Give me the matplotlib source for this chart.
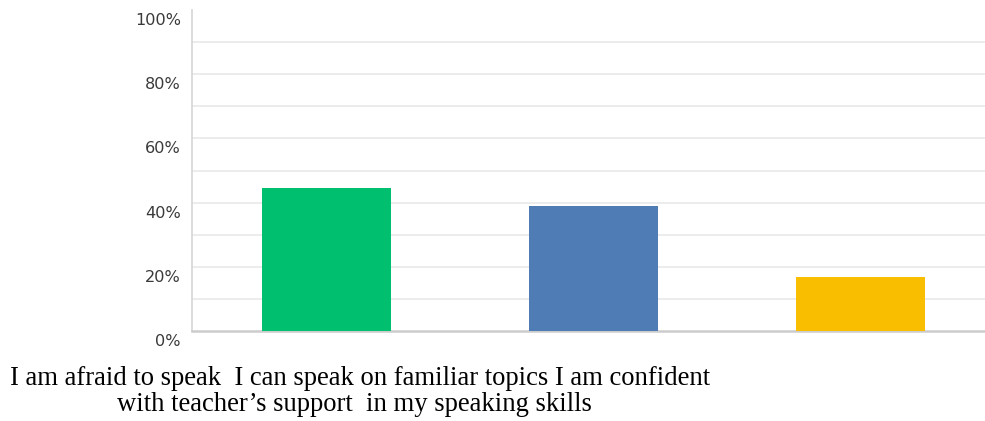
import matplotlib
matplotlib.use("Agg")
import matplotlib.pyplot as plt
import matplotlib.transforms as mtransforms
import numpy as np

# Share of responses per answer (percent)
categories = [
    "I am afraid to speak",
    "I can speak on familiar topics with teacher\u2019s support",
    "I am confident in my speaking skills",
]
values = [44.4, 38.9, 16.7]
colors = ["#00BF6F", "#507CB6", "#F9BE00"]
tick_values = [0, 20, 40, 60, 80, 100]
tick_labels = ["0%", "20%", "40%", "60%", "80%", "100%"]
grid_values = [10, 20, 30, 40, 50, 60, 70, 80, 90]

W, H = 985, 421
fig = plt.figure(figsize=(W / 100, H / 100), dpi=100)
ax = fig.add_axes([192 / W, 1 - 331 / H, (985 - 192) / W, (331 - 10) / H])

x = np.arange(len(categories))
ax.bar(x, values, width=0.483, color=colors, zorder=3, linewidth=0)

ax.set_xlim(-0.504, 2.466)
ax.set_ylim(0, 100)

for g in grid_values:
    ax.axhline(g, color="#ebebeb", linewidth=1.3, zorder=1)

ax.set_xticks([])
ax.set_yticks(tick_values)
ax.set_yticklabels(tick_labels, fontsize=11.6, color="#3a3a3a", family="DejaVu Sans")
ax.tick_params(axis="y", length=0, pad=8)
shift = mtransforms.ScaledTranslation(0, -9 / 100, fig.dpi_scale_trans)
for lbl in ax.get_yticklabels():
    lbl.set_transform(lbl.get_transform() + shift)

for side in ("top", "right"):
    ax.spines[side].set_visible(False)
ax.spines["left"].set_color("#d5d5d5")
ax.spines["left"].set_linewidth(1.2)
ax.spines["bottom"].set_color("#cccccc")
ax.spines["bottom"].set_linewidth(1.8)

# Category captions below the chart
serif = dict(family="Liberation Serif", fontsize=19.2, color="black",
             va="baseline", ha="left")
fig.text(10 / W, 1 - 385 / H,
         "I am afraid to speak  I can speak on familiar topics I am confident", **serif)
fig.text(117 / W, 1 - 411 / H,
         "with teacher\u2019s support  in my speaking skills", **serif)

fig.savefig("out.png", dpi=100)
